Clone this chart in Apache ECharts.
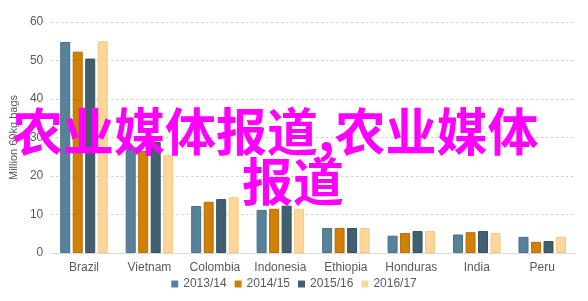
<!DOCTYPE html>
<html><head><meta charset="utf-8">
<script src="https://cdn.jsdelivr.net/npm/echarts@6/dist/echarts.min.js"></script>
<style>html,body{margin:0;padding:0;background:#fff}#c{width:588px;height:301px}</style>
</head><body><div id="c"></div>
<script>
var categories = ['Brazil','Vietnam','Colombia','Indonesia','Ethiopia','Honduras','India','Peru'];
var seriesNames = ['2013/14','2014/15','2015/16','2016/17'];
var s2013 = [54.8, 27.6, 12.2, 11.2, 6.5, 4.5, 4.8, 4.2];
var s2014 = [52.3, 26.5, 13.3, 11.5, 6.5, 5.2, 5.4, 2.9];
var s2015 = [50.5, 28.8, 14.0, 12.3, 6.5, 5.7, 5.7, 3.1];
var s2016 = [55.0, 25.4, 14.5, 11.5, 6.5, 5.7, 5.2, 4.2];
var yTicks = [0, 10, 20, 30, 40, 50, 60];
var colors = ['#58829a', '#d17f05', '#425f70', '#ffd699'];
var borders = ['#4a7186', '#b96f03', '#36515f', '#f4c985'];
var overlayLine1 = '农业媒体报道,农业媒体';
var overlayLine2 = '报道';

var data = [s2013, s2014, s2015, s2016];
var chart = echarts.init(document.getElementById('c'));
chart.setOption({
  animation: false,
  grid: {left: 49, right: 13, top: 22, bottom: 48},
  legend: {
    bottom: 6, left: 'center',
    itemWidth: 7, itemHeight: 7, itemGap: 8, itemStyle: {borderWidth: 0},
    icon: 'rect',
    textStyle: {color: '#595959', fontSize: 12, fontFamily: 'Liberation Sans, Arial, sans-serif'},
    data: seriesNames
  },
  xAxis: {
    type: 'category', data: categories,
    axisLine: {lineStyle: {color: '#d9d9d9'}},
    axisTick: {show: false},
    axisLabel: {interval: 0, color: '#595959', fontSize: 12, margin: 9, fontFamily: 'Liberation Sans, Arial, sans-serif'}
  },
  yAxis: {
    type: 'value', min: yTicks[0], max: yTicks[yTicks.length-1], interval: 10,
    name: 'Million 60kg bags', nameLocation: 'middle', nameGap: 32,
    nameTextStyle: {color: '#595959', fontSize: 11, fontFamily: 'Liberation Sans, Arial, sans-serif'},
    axisLine: {show: false}, axisTick: {show: false},
    axisLabel: {color: '#595959', fontSize: 12, margin: 8, fontFamily: 'Liberation Sans, Arial, sans-serif'},
    splitLine: {lineStyle: {color: '#c8c8c8', type: [2, 3], width: 1}}
  },
  series: seriesNames.map(function(n, i){
    return {
      name: n, type: 'bar', data: data[i],
      barWidth: 10, barGap: '25%',
      itemStyle: {color: colors[i], borderColor: borders[i], borderWidth: 1}
    };
  }),
  graphic: [
    {type: 'text', left: 12, top: 106, z: 100,
     style: {text: overlayLine1, fill: '#ff00ff', fontSize: 51, fontWeight: 'bold',
             fontFamily: 'Noto Sans CJK SC, sans-serif'}},
    {type: 'text', left: 242, top: 156, z: 100,
     style: {text: overlayLine2, fill: '#ff00ff', fontSize: 51, fontWeight: 'bold',
             fontFamily: 'Noto Sans CJK SC, sans-serif'}}
  ]
});
</script></body></html>
